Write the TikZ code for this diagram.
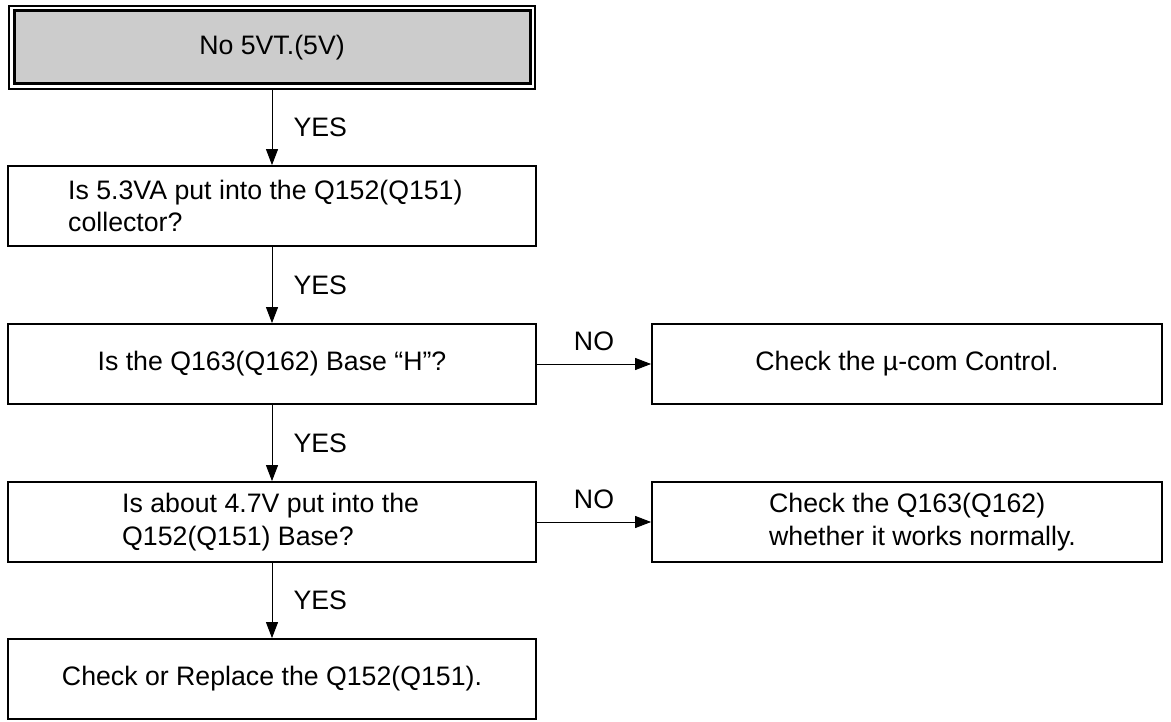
\documentclass[tikz,border=0pt]{standalone}
\usepackage{fontspec}
\setmainfont{Liberation Sans}
\usetikzlibrary{arrows.meta}
\begin{document}
\begin{tikzpicture}[x=1pt,y=-1pt,
  txt/.style={font=\fontsize{26.7}{32.5}\selectfont},
  box/.style={draw,line width=1.8pt,minimum width=528pt,minimum height=80pt,inner sep=0pt,txt},
  rbox/.style={box,minimum width=510pt},
  conn/.style={line width=1pt,-{Triangle[length=16pt,width=12pt]}},
  lbl/.style={txt,inner sep=0pt}]
\useasboundingbox (0,0) rectangle (1171,722);
% top double box
\node[draw,line width=2pt,minimum width=526pt,minimum height=83pt,inner sep=0pt] (start) at (272,47.5) {};
\draw[line width=3pt,fill=black!20] ([shift={(6pt,-6pt)}]start.north west) rectangle ([shift={(-6pt,6pt)}]start.south east);
\node[lbl] (starttxt) at (start.center) {No 5VT.(5V)};
\node[box] (b2) at (272,206) {};
\node[lbl,anchor=west,align=left] (b2t) at (68,206) {Is 5.3VA put into the Q152(Q151)\\collector?};
\node[box] (b3) at (272,364) {Is the Q163(Q162) Base “H”?};
\node[rbox] (r1) at (907,364) {Check the µ-com Control.};
\node[box] (b4) at (272,522) {};
\node[lbl,anchor=west,align=left] (b4t) at (122,522) {Is about 4.7V put into the\\Q152(Q151) Base?};
\node[rbox] (r2) at (907,522) {};
\node[lbl,anchor=west,align=left] (r2t) at (769,522) {Check the Q163(Q162)\\whether it works normally.};
\node[box] (b5) at (272,679) {Check or Replace the Q152(Q151).};
\draw[conn] (start.south) -- (b2.north) node[lbl,midway,right=21pt] {YES};
\draw[conn] (b2.south) -- (b3.north) node[lbl,midway,right=21pt] {YES};
\draw[conn] (b3.south) -- (b4.north) node[lbl,midway,right=21pt] {YES};
\draw[conn] (b4.south) -- (b5.north) node[lbl,midway,right=21pt] {YES};
\draw[conn] (b3.east) -- (r1.west) node[lbl,midway,above=13pt] {NO};
\draw[conn] (b4.east) -- (r2.west) node[lbl,midway,above=13pt] {NO};
\end{tikzpicture}
\end{document}
